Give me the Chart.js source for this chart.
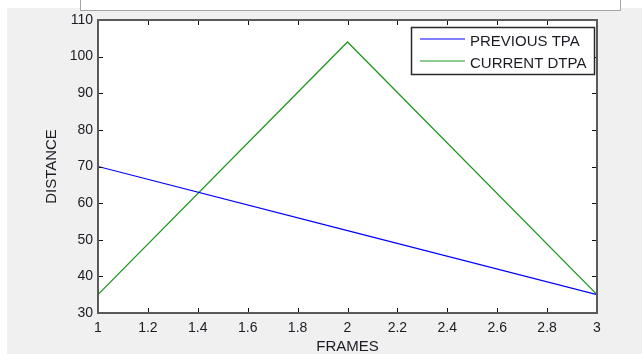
<!DOCTYPE html>
<html>
<head>
<meta charset="utf-8">
<script src="https://cdn.jsdelivr.net/npm/chart.js@4"></script>
<style>
  html,body{margin:0;padding:0;background:#ffffff;width:642px;height:354px;overflow:hidden;}
  #bg{position:absolute;left:7px;top:8px;width:635px;height:346px;background:#f0f0f0;}
  #panel{position:absolute;left:80px;top:-2px;width:539px;height:11px;border:1px solid #a5a5a5;background:#ffffff;}
  #c{position:absolute;left:0;top:0;}
</style>
</head>
<body>
<div id="bg"></div>
<div id="panel"></div>
<canvas id="c" width="642" height="354"></canvas>
<script>
// ---- data ----
const frames = [1, 2, 3];
const previousTPA = [70, 52.5, 35];
const currentDTPA = [35, 104, 35];
const seriesNames = ['PREVIOUS TPA', 'CURRENT DTPA'];
const seriesColors = ['#0000ff', '#1c961c'];
const xTickValues = [1, 1.2, 1.4, 1.6, 1.8, 2, 2.2, 2.4, 2.6, 2.8, 3];
const yTickValues = [30, 40, 50, 60, 70, 80, 90, 100, 110];
const xTitle = 'FRAMES';
const yTitle = 'DISTANCE';

const FONT = "'Liberation Sans', Arial, sans-serif";
const TXT = '#1b1b24';

const toPoints = (xs, ys) => xs.map((x, i) => ({x: x, y: ys[i]}));

const areaPlugin = {
  id: 'area',
  beforeDraw(chart) {
    const {ctx, chartArea: a} = chart;
    ctx.save();
    ctx.fillStyle = '#ffffff';
    ctx.fillRect(a.left, a.top, a.right - a.left, a.bottom - a.top);
    ctx.restore();
  },
  afterDatasetsDraw(chart) {
    const {ctx, chartArea: a, scales} = chart;
    ctx.save();
    // inward ticks on all four sides
    ctx.strokeStyle = '#111111';
    ctx.lineWidth = 1;
    const L = 5;
    ctx.beginPath();
    scales.x.ticks.forEach(t => {
      const px = Math.round(scales.x.getPixelForValue(t.value)) + 0.5;
      ctx.moveTo(px, a.bottom); ctx.lineTo(px, a.bottom - L);
      ctx.moveTo(px, a.top); ctx.lineTo(px, a.top + L);
    });
    scales.y.ticks.forEach(t => {
      const py = Math.round(scales.y.getPixelForValue(t.value)) + 0.5;
      ctx.moveTo(a.left, py); ctx.lineTo(a.left + L, py);
      ctx.moveTo(a.right, py); ctx.lineTo(a.right - L, py);
    });
    ctx.stroke();
    // axes box
    ctx.strokeStyle = '#5a5a5a';
    ctx.lineWidth = 2;
    ctx.strokeRect(Math.round(a.left), Math.round(a.top), Math.round(a.right - a.left), Math.round(a.bottom - a.top));
    // legend box
    const bw = 183, bh = 47;
    const bx = Math.round(a.right) - 3 - bw, by = Math.round(a.top) + 7;
    ctx.fillStyle = '#ffffff';
    ctx.fillRect(bx, by, bw, bh);
    ctx.strokeStyle = '#2a2a2a';
    ctx.lineWidth = 1.5;
    ctx.strokeRect(bx + 0.5, by + 0.5, bw, bh);
    ctx.font = '15px ' + FONT;
    ctx.textBaseline = 'middle';
    chart.data.datasets.forEach((ds, i) => {
      const ly = by + 12 + i * 22;
      ctx.beginPath();
      ctx.strokeStyle = seriesColors[i];
      ctx.lineWidth = 1.2;
      ctx.moveTo(bx + 9, ly); ctx.lineTo(bx + 54, ly);
      ctx.stroke();
      ctx.fillStyle = TXT;
      ctx.fillText(ds.label, bx + 59, ly + 2.5);
    });
    ctx.restore();
  }
};

new Chart(document.getElementById('c'), {
  type: 'line',
  data: {
    datasets: [
      {label: seriesNames[0], data: toPoints(frames, previousTPA), borderColor: seriesColors[0], borderWidth: 1.1, pointRadius: 0, tension: 0, fill: false},
      {label: seriesNames[1], data: toPoints(frames, currentDTPA), borderColor: seriesColors[1], borderWidth: 1.2, pointRadius: 0, tension: 0, fill: false}
    ]
  },
  options: {
    responsive: false,
    animation: false,
    events: [],
    layout: {padding: {top: 20, right: 45, left: 0, bottom: 0}},
    plugins: {legend: {display: false}, tooltip: {enabled: false}},
    scales: {
      x: {
        type: 'linear', min: 1, max: 3,
        afterBuildTicks: s => { s.ticks = xTickValues.map(v => ({value: v})); },
        afterFit: s => { s.height = 41; },
        grid: {display: false, drawTicks: false, tickLength: 0}, border: {display: false},
        ticks: {padding: 7, color: TXT, font: {family: FONT, size: 14}, autoSkip: false, maxRotation: 0,
                callback: v => String(Math.round(v * 10) / 10)},
        title: {display: true, text: xTitle, color: TXT, font: {family: FONT, size: 15, lineHeight: 1}, padding: {top: 0, bottom: 0}}
      },
      y: {
        type: 'linear', min: 30, max: 110,
        afterBuildTicks: s => { s.ticks = yTickValues.map(v => ({value: v})); },
        afterFit: s => { s.width = 98; },
        grid: {display: false, drawTicks: false, tickLength: 0}, border: {display: false},
        ticks: {padding: 5, color: TXT, font: {family: FONT, size: 14}, autoSkip: false,
                callback: v => String(v)},
        title: {display: true, text: yTitle, color: TXT, font: {family: FONT, size: 15, lineHeight: 1}, padding: {top: 44, bottom: 0}}
      }
    }
  },
  plugins: [areaPlugin]
});
</script>
</body>
</html>
